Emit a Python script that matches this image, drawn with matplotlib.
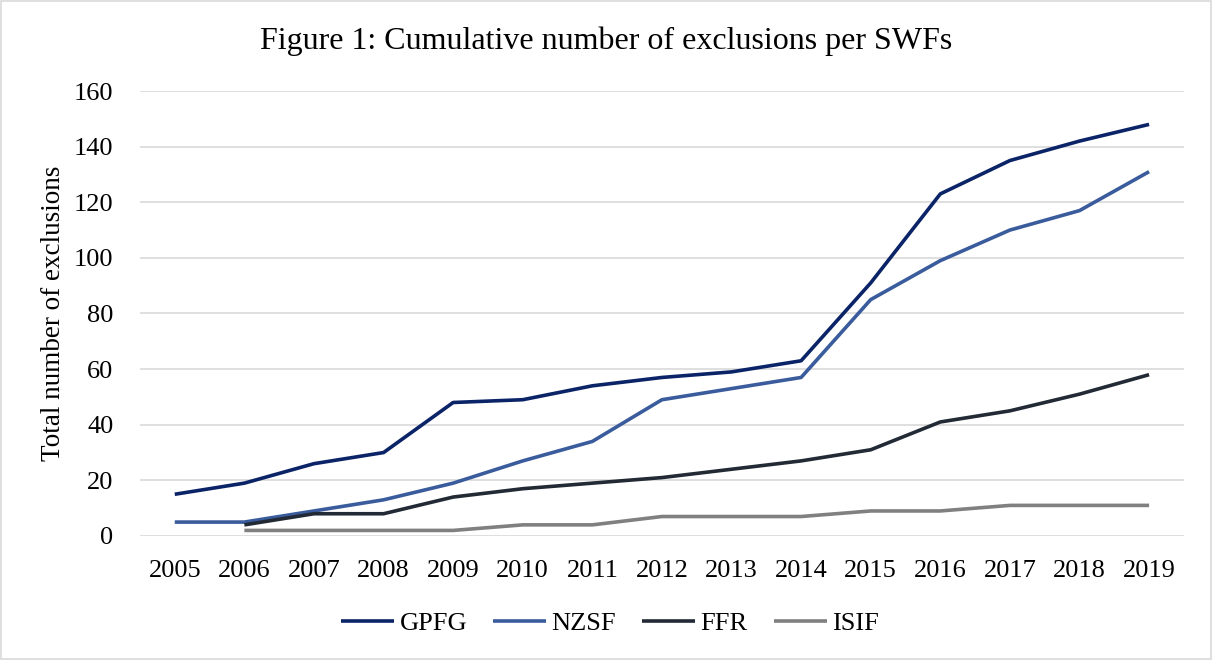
import numpy as np
import matplotlib.pyplot as plt

plt.rcParams['font.family'] = ['Liberation Serif', 'DejaVu Serif']

years = ['2005', '2006', '2007', '2008', '2009', '2010', '2011', '2012',
         '2013', '2014', '2015', '2016', '2017', '2018', '2019']
gpfg = [15, 19, 26, 30, 48, 49, 54, 57, 59, 63, 91, 123, 135, 142, 148]
nzsf = [5, 5, 9, 13, 19, 27, 34, 49, 53, 57, 85, 99, 110, 117, 131]
ffr = [np.nan, 4, 8, 8, 14, 17, 19, 21, 24, 27, 31, 41, 45, 51, 58]
isif = [np.nan, 2, 2, 2, 2, 4, 4, 7, 7, 7, 9, 9, 11, 11, 11]

fig = plt.figure(figsize=(12.13, 6.6), dpi=100)
ax = fig.add_axes([0.1154, 0.1879, 0.8606, 0.6742])

x = np.arange(len(years))
ax.plot(x, gpfg, color='#0b2468', lw=2.6, label='GPFG', solid_capstyle='butt')
ax.plot(x, nzsf, color='#3a5c9c', lw=2.6, label='NZSF', solid_capstyle='butt')
ax.plot(x, ffr, color='#222a35', lw=2.6, label='FFR', solid_capstyle='butt')
ax.plot(x, isif, color='#808080', lw=2.6, label='ISIF', solid_capstyle='butt')

ax.set_xlim(-0.5, len(years) - 0.5)
ax.set_ylim(0, 160)
ax.set_yticks(range(0, 161, 20))
ax.set_xticks(x)
ax.set_xticklabels(years)
ax.tick_params(length=0, labelsize=19)
ax.tick_params(axis='x', pad=17)
ax.tick_params(axis='y', pad=19)
ax.grid(axis='y', color='#d9d9d9', lw=1.2)
ax.set_axisbelow(True)
for s in ax.spines.values():
    s.set_visible(False)

ax.set_ylabel('Total number of exclusions', fontsize=19.5, labelpad=6)
fig.text(0.5, 0.937, 'Figure 1: Cumulative number of exclusions per SWFs',
         ha='center', va='center', fontsize=23)

fig.legend(loc='center', bbox_to_anchor=(0.503, 0.055), ncol=4, frameon=False,
           fontsize=19, handlelength=2.0, columnspacing=1.0, handletextpad=0.2)

border = plt.Rectangle((0.001, 0.001), 0.997, 0.997, transform=fig.transFigure,
                       fill=False, edgecolor='#d9d9d9', lw=1.2)
fig.patches.append(border)

fig.savefig('out.png', dpi=100)
